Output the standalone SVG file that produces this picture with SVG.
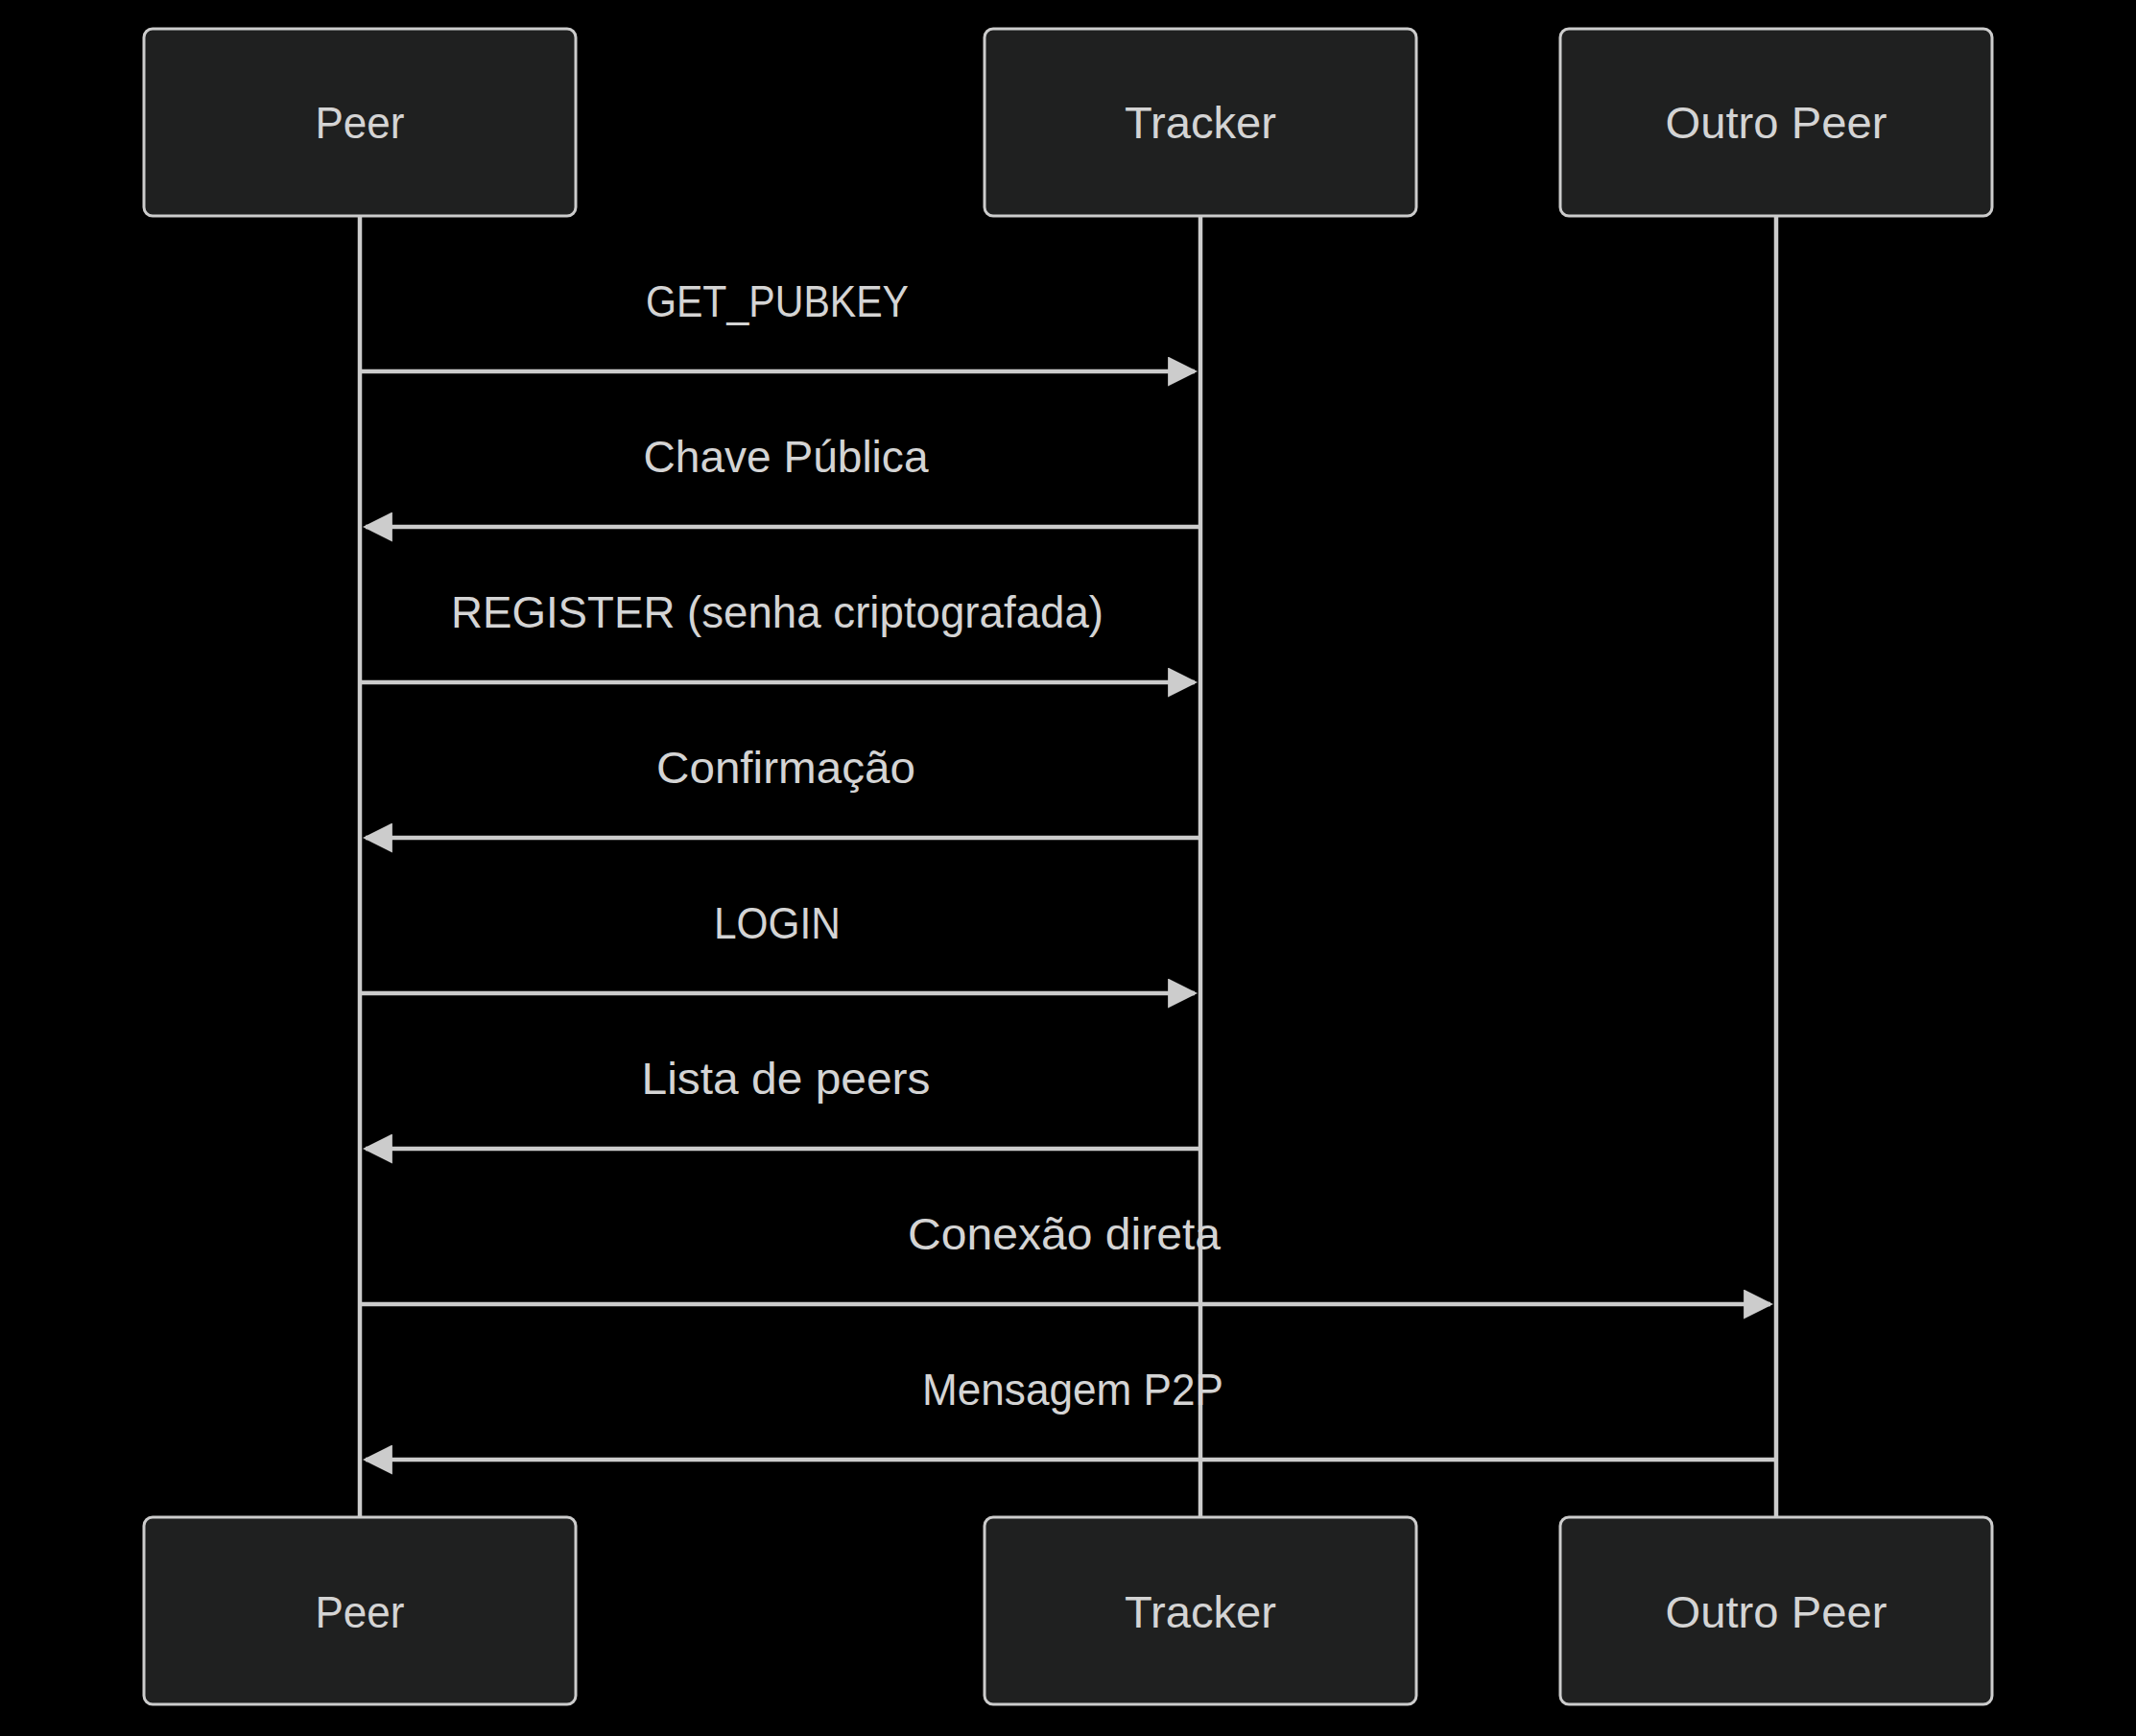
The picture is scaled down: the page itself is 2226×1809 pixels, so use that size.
<svg xmlns="http://www.w3.org/2000/svg" width="2226" height="1809" viewBox="0 0 2226 1809">
<style>
.actor{fill:#1f2020;stroke:#cccccc;stroke-width:3}
.atext{fill:#d4d4d4;font-family:"Liberation Sans",Arial,sans-serif;font-size:46px;text-anchor:middle}
.life{stroke:#cccccc;stroke-width:4.5}
.msg{stroke:#cccccc;stroke-width:4.5;fill:none;marker-end:url(#arrow)}
.mtext{fill:#d4d4d4;font-family:"Liberation Sans",Arial,sans-serif;font-size:46px;text-anchor:middle}
</style>
<defs>
<marker id="arrow" viewBox="0 0 10 10" refX="9" refY="5" markerUnits="userSpaceOnUse" markerWidth="31" markerHeight="31" orient="auto">
<path d="M0,0 L10,5 L0,10 z" fill="#cccccc"/>
</marker>
</defs>
<rect width="2226" height="1809" fill="#000000"/>
<g id="lifelines">
<line class="life" x1="375" y1="225" x2="375" y2="1581"/>
<line class="life" x1="1251" y1="225" x2="1251" y2="1581"/>
<line class="life" x1="1851" y1="225" x2="1851" y2="1581"/>
</g>
<g id="actor-peer-top"><rect class="actor" x="150" y="30" width="450" height="195" rx="9"/><text class="atext" x="375" y="144" textLength="93" lengthAdjust="spacingAndGlyphs">Peer</text></g>
<g id="actor-tracker-top"><rect class="actor" x="1026" y="30" width="450" height="195" rx="9"/><text class="atext" x="1251" y="144" textLength="158" lengthAdjust="spacingAndGlyphs">Tracker</text></g>
<g id="actor-outro-top"><rect class="actor" x="1626" y="30" width="450" height="195" rx="9"/><text class="atext" x="1851" y="144" textLength="231" lengthAdjust="spacingAndGlyphs">Outro Peer</text></g>
<g id="actor-peer-bottom"><rect class="actor" x="150" y="1581" width="450" height="195" rx="9"/><text class="atext" x="375" y="1696" textLength="93" lengthAdjust="spacingAndGlyphs">Peer</text></g>
<g id="actor-tracker-bottom"><rect class="actor" x="1026" y="1581" width="450" height="195" rx="9"/><text class="atext" x="1251" y="1696" textLength="158" lengthAdjust="spacingAndGlyphs">Tracker</text></g>
<g id="actor-outro-bottom"><rect class="actor" x="1626" y="1581" width="450" height="195" rx="9"/><text class="atext" x="1851" y="1696" textLength="231" lengthAdjust="spacingAndGlyphs">Outro Peer</text></g>
<g id="connectors">
<line class="msg" x1="377" y1="387" x2="1245" y2="387"/>
<line class="msg" x1="1249" y1="549" x2="381" y2="549"/>
<line class="msg" x1="377" y1="711" x2="1245" y2="711"/>
<line class="msg" x1="1249" y1="873" x2="381" y2="873"/>
<line class="msg" x1="377" y1="1035" x2="1245" y2="1035"/>
<line class="msg" x1="1249" y1="1197" x2="381" y2="1197"/>
<line class="msg" x1="377" y1="1359" x2="1845" y2="1359"/>
<line class="msg" x1="1849" y1="1521" x2="381" y2="1521"/>
</g>
<g id="labels">
<text class="mtext" x="810" y="330" textLength="274" lengthAdjust="spacingAndGlyphs">GET_PUBKEY</text>
<text class="mtext" x="819" y="492" textLength="297" lengthAdjust="spacingAndGlyphs">Chave Pública</text>
<text class="mtext" x="810" y="654" textLength="680" lengthAdjust="spacingAndGlyphs">REGISTER (senha criptografada)</text>
<text class="mtext" x="819" y="816" textLength="270" lengthAdjust="spacingAndGlyphs">Confirmação</text>
<text class="mtext" x="810" y="978" textLength="132" lengthAdjust="spacingAndGlyphs">LOGIN</text>
<text class="mtext" x="819" y="1140" textLength="301" lengthAdjust="spacingAndGlyphs">Lista de peers</text>
<text class="mtext" x="1109" y="1302" textLength="326" lengthAdjust="spacingAndGlyphs">Conexão direta</text>
<text class="mtext" x="1118" y="1464" textLength="314" lengthAdjust="spacingAndGlyphs">Mensagem P2P</text>
</g>
</svg>
